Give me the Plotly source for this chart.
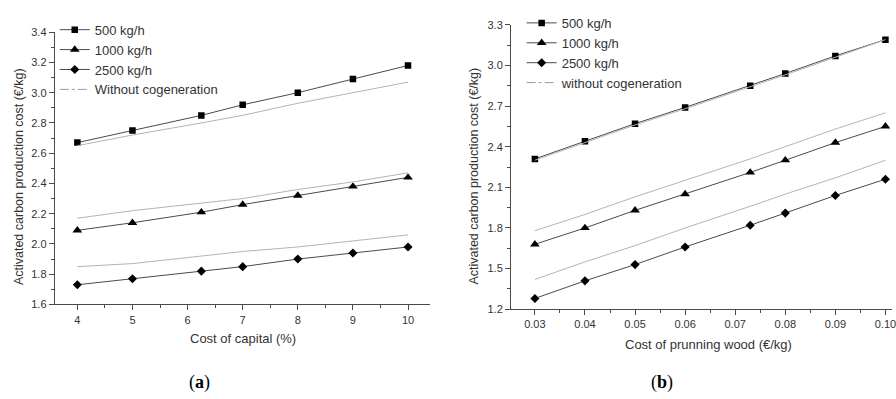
import plotly.graph_objects as go

# ---- Data: panel (a) ----
capital_x = [4, 5, 6.25, 7, 8, 9, 10]
a_500 = [2.67, 2.75, 2.85, 2.92, 3.00, 3.09, 3.18]
a_500_nc = [2.65, 2.72, 2.80, 2.85, 2.93, 3.00, 3.07]
a_1000 = [2.09, 2.14, 2.21, 2.26, 2.32, 2.38, 2.44]
a_1000_nc = [2.17, 2.22, 2.27, 2.30, 2.36, 2.41, 2.47]
a_2500 = [1.73, 1.77, 1.82, 1.85, 1.90, 1.94, 1.98]
a_2500_nc = [1.85, 1.87, 1.92, 1.95, 1.98, 2.02, 2.06]

# ---- Data: panel (b) ----
wood_x = [0.03, 0.04, 0.05, 0.06, 0.073, 0.08, 0.09, 0.10]
b_500 = [2.31, 2.44, 2.57, 2.69, 2.85, 2.94, 3.07, 3.19]
b_500_nc = [2.30, 2.43, 2.56, 2.68, 2.84, 2.93, 3.06, 3.19]
b_1000 = [1.68, 1.80, 1.93, 2.05, 2.21, 2.30, 2.43, 2.55]
b_1000_nc = [1.78, 1.90, 2.03, 2.15, 2.31, 2.40, 2.53, 2.65]
b_2500 = [1.28, 1.41, 1.53, 1.66, 1.82, 1.91, 2.04, 2.16]
b_2500_nc = [1.42, 1.55, 1.67, 1.80, 1.96, 2.05, 2.17, 2.30]

names_a = ["500 kg/h", "1000 kg/h", "2500 kg/h", "Without cogeneration"]
names_b = ["500 kg/h", "1000 kg/h", "2500 kg/h", "without cogeneration"]
symbols = ["square", "triangle-up", "diamond"]
msizes = [6.5, 8.5, 7]

LINE = "#4a4a4a"
GREY = "#b4b4b4"
TXT = "#333333"
FONT = "Liberation Sans, Arial, sans-serif"

fig = go.Figure()

def add_panel(x, series, nc_series, names, xa, ya, legend):
    for i, (ys, sym, ms) in enumerate(zip(series, symbols, msizes)):
        fig.add_trace(go.Scatter(
            x=x, y=ys, mode="lines+markers", name=names[i],
            line=dict(color=LINE, width=1),
            marker=dict(symbol=sym, size=ms, color="black"),
            xaxis=xa, yaxis=ya, legend=legend))
    for ys in nc_series:
        fig.add_trace(go.Scatter(
            x=x, y=ys, mode="lines", name=names[3],
            line=dict(color=GREY, width=1), showlegend=False,
            xaxis=xa, yaxis=ya))
    # legend entry for the "without cogeneration" lines (dash-dot key)
    fig.add_trace(go.Scatter(
        x=[None], y=[None], mode="lines", name=names[3],
        line=dict(color="#9a9a9a", width=1, dash="dashdot"),
        xaxis=xa, yaxis=ya, legend=legend))

add_panel(capital_x, [a_500, a_1000, a_2500], [a_500_nc, a_1000_nc, a_2500_nc],
          names_a, "x", "y", "legend")
add_panel(wood_x, [b_500, b_1000, b_2500], [b_500_nc, b_1000_nc, b_2500_nc],
          names_b, "x2", "y2", "legend2")

W, H = 896, 399

def ax_common():
    return dict(showline=True, linecolor=LINE, linewidth=1, ticks="outside",
                ticklen=5, tickcolor=LINE, showgrid=False, zeroline=False,
                tickfont=dict(family=FONT, size=11, color=TXT), mirror=False)

fig.update_layout(
    width=W, height=H, margin=dict(l=0, r=0, t=0, b=0),
    paper_bgcolor="white", plot_bgcolor="white",
    font=dict(family=FONT, color=TXT),
    xaxis=dict(**ax_common(), domain=[55 / W, 432 / W], range=[3.59, 10.4],
               dtick=1, tick0=0, anchor="y",
               minor=dict(ticks="outside", ticklen=3, dtick=0.5, tickcolor=LINE)),
    yaxis=dict(**ax_common(), domain=[1 - 307.7 / H, 1 - 27 / H], range=[1.6, 3.4],
               dtick=0.2, tick0=1.6, tickformat=".1f", anchor="x",
               minor=dict(ticks="outside", ticklen=3, dtick=0.1, tickcolor=LINE)),
    xaxis2=dict(**ax_common(), domain=[513.3 / W, 1.0], range=[0.02523, 0.10131],
                dtick=0.01, tick0=0.03, tickformat=".2f", anchor="y2",
                ticklabeloverflow="allow",
                minor=dict(ticks="outside", ticklen=3, dtick=0.005, tickcolor=LINE)),
    yaxis2=dict(**ax_common(), domain=[1 - 312.7 / H, 1 - 19.3 / H], range=[1.2, 3.3],
                dtick=0.3, tick0=1.2, tickformat=".1f", anchor="x2",
                minor=dict(ticks="outside", ticklen=3, dtick=0.15, tickcolor=LINE)),
    legend=dict(x=55 / W, y=1 - 9 / H, xanchor="left", yanchor="top",
                bgcolor="rgba(0,0,0,0)", font=dict(family=FONT, size=13, color=TXT),
                itemwidth=30, tracegroupgap=0),
    legend2=dict(x=524 / W, y=1 - 2 / H, xanchor="left", yanchor="top",
                 bgcolor="rgba(0,0,0,0)", font=dict(family=FONT, size=13, color=TXT),
                 itemwidth=30, tracegroupgap=0),
    showlegend=True,
)

annots = [
    dict(text="Activated carbon production cost (€/kg)", x=18.5 / W, y=1 - 176 / H,
         textangle=-90, font=dict(size=12.5)),
    dict(text="Activated carbon production cost (€/kg)", x=476 / W, y=1 - 175 / H,
         textangle=-90, font=dict(size=12.5)),
    dict(text="Cost of capital (%)", x=244.5 / W, y=1 - 343.3 / H, font=dict(size=13)),
    dict(text="Cost of prunning wood (€/kg)", x=711.7 / W, y=1 - 349.3 / H,
         font=dict(size=13)),
    dict(text="(<b>a</b>)", x=200 / W, y=1 - 388 / H,
         font=dict(size=18, family="Liberation Serif, Times New Roman, serif", color="black")),
    dict(text="(<b>b</b>)", x=665 / W, y=1 - 388 / H,
         font=dict(size=18, family="Liberation Serif, Times New Roman, serif", color="black")),
]
for a in annots:
    fnt = dict(family=FONT, color=TXT)
    fnt.update(a.pop("font"))
    fig.add_annotation(**a, xref="paper", yref="paper", showarrow=False,
                       xanchor="center", yanchor="middle", font=fnt)

fig.write_html("out.html")
